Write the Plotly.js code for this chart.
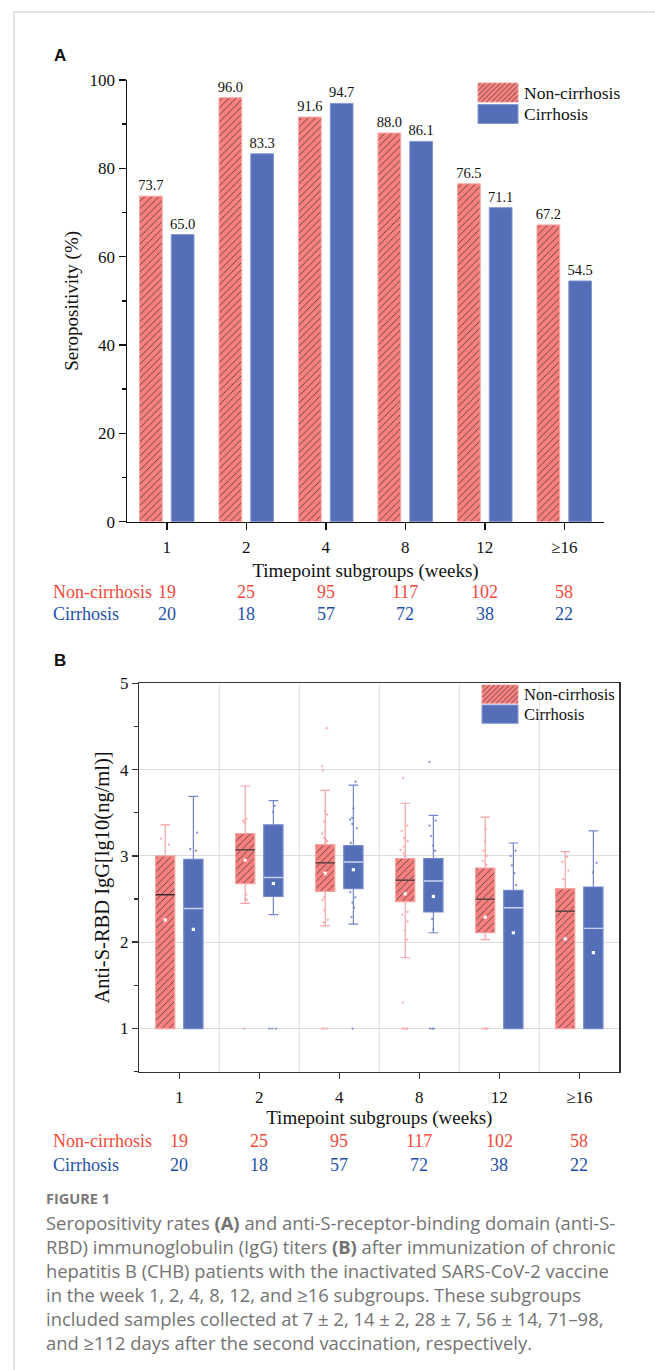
<!DOCTYPE html>
<html><head><meta charset="utf-8">
<script src="https://cdn.plot.ly/plotly-3.0.1.min.js"></script>
<style>html,body{margin:0;padding:0;background:#fff}</style>
</head><body><div id="chart" style="width:655px;height:1370px"></div>
<script>
// ---------- DATA ----------
const categories = ['1', '2', '4', '8', '12', '≥16'];
const groupNames = ['Non-cirrhosis', 'Cirrhosis'];

// Panel A: seropositivity (%)
const seroNonCirrhosis = [73.7, 96.0, 91.6, 88.0, 76.5, 67.2];
const seroCirrhosis    = [65.0, 83.3, 94.7, 86.1, 71.1, 54.5];

// sample sizes
const countNonCirrhosis = [19, 25, 95, 117, 102, 58];
const countCirrhosis    = [20, 18, 57, 72, 38, 22];

// Panel B: anti-S-RBD IgG [lg10(ng/ml)] box statistics
const ncLower  = [1.00, 2.45, 2.19, 1.82, 2.03, 1.00];
const ncQ1     = [1.00, 2.68, 2.59, 2.47, 2.11, 1.00];
const ncMedian = [2.55, 3.07, 2.92, 2.72, 2.50, 2.36];
const ncQ3     = [3.00, 3.26, 3.13, 2.97, 2.86, 2.62];
const ncUpper  = [3.36, 3.81, 3.76, 3.61, 3.45, 3.05];
const ncMean   = [2.26, 2.95, 2.80, 2.56, 2.29, 2.04];

const cLower   = [1.00, 2.32, 2.21, 2.11, 1.00, 1.00];
const cQ1      = [1.00, 2.53, 2.62, 2.35, 1.00, 1.00];
const cMedian  = [2.39, 2.75, 2.93, 2.71, 2.40, 2.16];
const cQ3      = [2.96, 3.36, 3.12, 2.97, 2.60, 2.64];
const cUpper   = [3.69, 3.64, 3.82, 3.47, 3.15, 3.29];
const cMean    = [2.15, 2.68, 2.84, 2.53, 2.11, 1.88];

// visible individual samples
const ncPoints = [
  [3.20, 3.13, 1, 1],
  [3.43, 3.41, 3.39, 2.55, 2.50, 2.49, 1],
  [4.48, 4.04, 3.99, 3.52, 3.48, 3.40, 3.28, 3.26, 3.21, 3.19, 3.17, 3.15, 2.52, 2.49, 2.37, 2.26, 2.23, 1, 1, 1],
  [3.90, 3.35, 3.29, 3.21, 3.17, 3.11, 3.07, 3.03, 3.00, 2.35, 2.32, 2.24, 2.14, 2.03, 1.30, 1, 1, 1, 1],
  [3.31, 3.17, 3.06, 3.00, 2.94, 2.90, 1, 1, 1, 1],
  [2.99, 2.93, 2.83, 2.73]
];
const cPoints = [
  [3.27, 3.08, 3.06],
  [3.58, 3.51, 1, 1, 1],
  [3.86, 3.55, 3.44, 3.42, 3.37, 3.32, 3.15, 2.58, 2.52, 2.46, 2.40, 2.29, 1],
  [4.09, 3.41, 3.35, 3.23, 3.12, 3.06, 2.27, 2.15, 1, 1, 1],
  [3.06, 3.00, 2.89, 2.80, 2.66],
  [2.92, 2.81]
];

const captionLines = [
  'Seropositivity rates <b>(A)</b> and anti-S-receptor-binding domain (anti-S-',
  'RBD) immunoglobulin (IgG) titers <b>(B)</b> after immunization of chronic',
  'hepatitis B (CHB) patients with the inactivated SARS-CoV-2 vaccine',
  'in the week 1, 2, 4, 8, 12, and ≥16 subgroups. These subgroups',
  'included samples collected at 7 ± 2, 14 ± 2, 28 ± 7, 56 ± 14, 71–98,',
  'and ≥112 days after the second vaccination, respectively.'
];

// ---------- STYLE ----------
const W = 655, H = 1370;
const PX = x => x / W;
const PY = y => 1 - y / H;
const SERIF = 'Liberation Serif';
const RED = '#f8807e', RED_EDGE = '#f9a8a6', RED_LIGHT = '#f6a3a3';
const BLUE = '#546eb7', BLUE_EDGE = '#8596d2', BLUE_LIGHT = '#7386cc', BLUE_MED = '#c6cfee';
const RED_TXT = '#ef4a3a', BLUE_TXT = '#1f50a8';
const hatch = () => ({shape: '/', fgcolor: '#2b2b2b', bgcolor: RED, size: 5, solidity: 0.14});
const tf = (s) => ({family: SERIF, size: s, color: '#111'});

const traces = [];
// Panel A bars
traces.push({
  type: 'bar', x: categories, y: seroNonCirrhosis, name: groupNames[0], xaxis: 'x', yaxis: 'y',
  marker: {color: RED, line: {color: RED_EDGE, width: 1}, pattern: hatch()},
  text: seroNonCirrhosis.map(v => v.toFixed(1)), textposition: 'outside', cliponaxis: false, constraintext: 'none',
  textfont: tf(14.5), showlegend: false, hoverinfo: 'skip'
});
traces.push({
  type: 'bar', x: categories, y: seroCirrhosis, name: groupNames[1], xaxis: 'x', yaxis: 'y',
  marker: {color: BLUE, line: {color: BLUE_EDGE, width: 1}},
  text: seroCirrhosis.map(v => v.toFixed(1)), textposition: 'outside', cliponaxis: false, constraintext: 'none',
  textfont: tf(14.5), showlegend: false, hoverinfo: 'skip'
});

// Panel B: IQR boxes as bars (hatch support)
const BW = 0.24;
traces.push({
  type: 'bar', x: categories, base: ncQ1, y: ncQ3.map((q, i) => q - ncQ1[i]), xaxis: 'x2', yaxis: 'y2',
  width: BW, offset: -0.296, marker: {color: RED, line: {width: 0}, pattern: hatch()},
  showlegend: false, hoverinfo: 'skip'
});
traces.push({
  type: 'bar', x: categories, base: cQ1, y: cQ3.map((q, i) => q - cQ1[i]), xaxis: 'x2', yaxis: 'y2',
  width: BW, offset: 0.056, marker: {color: BLUE, line: {width: 0}},
  showlegend: false, hoverinfo: 'skip'
});

// whiskers + jittered samples
function whiskerTrace(lo, q1, med, q3, hi, pts, col, grp) {
  return {
    type: 'box', orientation: 'v', x: categories, y: pts, q1: q1, median: med, q3: q3,
    lowerfence: lo, upperfence: hi, xaxis: 'x2', yaxis: 'y2', offsetgroup: grp,
    fillcolor: 'rgba(0,0,0,0)', line: {color: col, width: 1.2}, whiskerwidth: 0.5,
    boxpoints: 'all', jitter: 0.5, pointpos: 0,
    marker: {color: col, size: 2.3, opacity: 0.9}, showlegend: false, hoverinfo: 'skip'
  };
}
function medianTrace(med, mean, col, grp) {
  return {
    type: 'box', orientation: 'v', x: categories, y: mean.map(m => [m]), q1: med, median: med, q3: med,
    lowerfence: med, upperfence: med, xaxis: 'x2', yaxis: 'y2', offsetgroup: grp,
    fillcolor: 'rgba(0,0,0,0)', line: {color: col, width: 1.4}, whiskerwidth: 0,
    boxpoints: 'all', jitter: 0, pointpos: 0,
    marker: {color: '#ffffff', size: 3.2, symbol: 'square', line: {width: 0}}, showlegend: false, hoverinfo: 'skip'
  };
}
traces.push(whiskerTrace(ncLower, ncQ1, ncMedian, ncQ3, ncUpper, ncPoints, RED_LIGHT, 'nc'));
traces.push(whiskerTrace(cLower, cQ1, cMedian, cQ3, cUpper, cPoints, BLUE_LIGHT, 'c'));
traces.push(medianTrace(ncMedian, ncMean, '#3a2a2a', 'nc'));
traces.push(medianTrace(cMedian, cMean, BLUE_MED, 'c'));

// ---------- LAYOUT ----------
const shapes = [];
const annotations = [];

// page frame
shapes.push({type: 'line', xref: 'paper', yref: 'paper', x0: PX(14), x1: PX(14), y0: PY(12), y1: 0, line: {color: '#d9d9d9', width: 1.5}});
shapes.push({type: 'line', xref: 'paper', yref: 'paper', x0: PX(14), x1: 1, y0: PY(12), y1: PY(12), line: {color: '#d9d9d9', width: 1.5}});

// vertical grid lines between categories in B
for (let i = 0; i < categories.length - 1; i++) {
  shapes.push({type: 'line', xref: 'x2', yref: 'y2 domain', x0: i + 0.5, x1: i + 0.5, y0: 0, y1: 1,
    line: {color: '#dedede', width: 1}, layer: 'below'});
}

// custom legends
function hatchPath(x0, y0, x1, y1, step) {
  let d = '';
  for (let c = x0 + y0 + step / 2; c < x1 + y1; c += step) {
    const xa = Math.max(x0, c - y1), xb = Math.min(x1, c - y0);
    if (xb <= xa) continue;
    d += `M${PX(xa)},${PY(c - xa)}L${PX(xb)},${PY(c - xb)}`;
  }
  return d;
}
function legend(x0, x1, yRed, yBlue, hgt, fsize) {
  shapes.push({type: 'rect', xref: 'paper', yref: 'paper', x0: PX(x0), x1: PX(x1), y0: PY(yRed), y1: PY(yRed + hgt),
    fillcolor: RED, line: {color: RED_EDGE, width: 1}});
  shapes.push({type: 'path', xref: 'paper', yref: 'paper', path: hatchPath(x0, yRed, x1, yRed + hgt, 5),
    line: {color: '#333', width: 0.7}});
  shapes.push({type: 'rect', xref: 'paper', yref: 'paper', x0: PX(x0), x1: PX(x1), y0: PY(yBlue), y1: PY(yBlue + hgt),
    fillcolor: BLUE, line: {color: BLUE_EDGE, width: 1}});
  annotations.push({xref: 'paper', yref: 'paper', x: PX(x1 + 4), y: PY(yRed + hgt / 2), xanchor: 'left', yanchor: 'middle',
    text: groupNames[0], showarrow: false, font: tf(fsize)});
  annotations.push({xref: 'paper', yref: 'paper', x: PX(x1 + 4), y: PY(yBlue + hgt / 2), xanchor: 'left', yanchor: 'middle',
    text: groupNames[1], showarrow: false, font: tf(fsize)});
}
legend(478, 518, 83, 104.5, 19, 17.5);
legend(482, 518, 685, 705, 18.3, 16.5);

// panel labels
annotations.push({xref: 'paper', yref: 'paper', x: PX(52), y: PY(56), xanchor: 'left', yanchor: 'middle', text: '<b>A</b>',
  showarrow: false, font: {family: 'Liberation Sans', size: 17, color: '#111'}});
annotations.push({xref: 'paper', yref: 'paper', x: PX(52), y: PY(660), xanchor: 'left', yanchor: 'middle', text: '<b>B</b>',
  showarrow: false, font: {family: 'Liberation Sans', size: 17, color: '#111'}});

// sample-size rows (x = category index on the categorical axis)
function countRows(xref, yNc, yC) {
  annotations.push({xref: 'paper', yref: 'paper', x: PX(51), y: PY(yNc), xanchor: 'left', yanchor: 'middle',
    text: groupNames[0], showarrow: false, font: {family: SERIF, size: 18, color: RED_TXT}});
  annotations.push({xref: 'paper', yref: 'paper', x: PX(51), y: PY(yC), xanchor: 'left', yanchor: 'middle',
    text: groupNames[1], showarrow: false, font: {family: SERIF, size: 18, color: BLUE_TXT}});
  categories.forEach((c, i) => {
    annotations.push({xref: xref, yref: 'paper', x: i, y: PY(yNc), xanchor: 'center', yanchor: 'middle',
      text: String(countNonCirrhosis[i]), showarrow: false, font: {family: SERIF, size: 18, color: RED_TXT}});
    annotations.push({xref: xref, yref: 'paper', x: i, y: PY(yC), xanchor: 'center', yanchor: 'middle',
      text: String(countCirrhosis[i]), showarrow: false, font: {family: SERIF, size: 18, color: BLUE_TXT}});
  });
}
countRows('x', 592, 614);
countRows('x2', 1141, 1165);

// caption
annotations.push({xref: 'paper', yref: 'paper', x: PX(44), y: PY(1198), xanchor: 'left', yanchor: 'middle',
  text: '<b>FIGURE 1</b>', showarrow: false, font: {family: 'Open Sans', size: 14.5, color: '#7a7a7a'}});
captionLines.forEach((t, i) => {
  annotations.push({xref: 'paper', yref: 'paper', x: PX(44), y: PY(1222 + i * 24), xanchor: 'left', yanchor: 'middle',
    text: t, showarrow: false, font: {family: 'Open Sans', size: 18.4, color: '#737373'}});
});

const layout = {
  width: W, height: H, margin: {l: 0, r: 0, t: 0, b: 0},
  paper_bgcolor: '#fff', plot_bgcolor: 'rgba(0,0,0,0)',
  showlegend: false, barmode: 'group', bargap: 0.2, bargroupgap: 0.285,
  boxmode: 'group', boxgap: 0.296, boxgroupgap: 0.318,
  font: {family: SERIF, color: '#111'},
  xaxis: {domain: [PX(127), PX(604)], anchor: 'y', type: 'category', range: [-0.5, 5.5],
    showline: true, linecolor: '#111', linewidth: 1.5, ticks: 'outside', ticklen: 7, tickwidth: 1.5, tickcolor: '#111',
    tickfont: tf(17), ticklabelstandoff: 2, showgrid: false, zeroline: false, fixedrange: true,
    title: {text: 'Timepoint subgroups (weeks)', font: tf(19), standoff: 8}},
  yaxis: {domain: [PY(521.7), PY(80)], anchor: 'x', range: [0, 100], dtick: 20,
    showline: true, linecolor: '#111', linewidth: 1.5, ticks: 'outside', ticklen: 7, tickwidth: 1.5, tickcolor: '#111',
    minor: {dtick: 10, ticklen: 4, tickwidth: 1.5, tickcolor: '#111', showgrid: false},
    tickfont: tf(17), showgrid: false, zeroline: false, fixedrange: true,
    title: {text: 'Seropositivity (%)', font: tf(19), standoff: 6}},
  xaxis2: {domain: [PX(139.3), PX(619.3)], anchor: 'y2', type: 'category', range: [-0.5, 5.5],
    showline: true, mirror: true, linecolor: '#333', linewidth: 1.5, ticks: 'outside', ticklen: 6, tickwidth: 1.5, tickcolor: '#333',
    tickfont: tf(17), ticklabelstandoff: 3, showgrid: false, zeroline: false, fixedrange: true,
    title: {text: 'Timepoint subgroups (weeks)', font: tf(19), standoff: 5}},
  yaxis2: {domain: [PY(1071.7), PY(683.3)], anchor: 'x2', range: [0.5, 5], dtick: 1, tick0: 0,
    showline: true, mirror: true, linecolor: '#333', linewidth: 1.5, ticks: 'outside', ticklen: 6, tickwidth: 1.5, tickcolor: '#333',
    minor: {dtick: 0.5, ticklen: 4, tickwidth: 1.2, tickcolor: '#333', showgrid: false},
    tickfont: tf(17), showgrid: true, gridcolor: '#dedede', gridwidth: 1, zeroline: false, fixedrange: true,
    title: {text: 'Anti-S-RBD IgG[lg10(ng/ml)]', font: tf(20.5), standoff: 4}},
  shapes: shapes, annotations: annotations
};

Plotly.newPlot('chart', traces, layout, {displayModeBar: false, staticPlot: true});
</script>
</body></html>
